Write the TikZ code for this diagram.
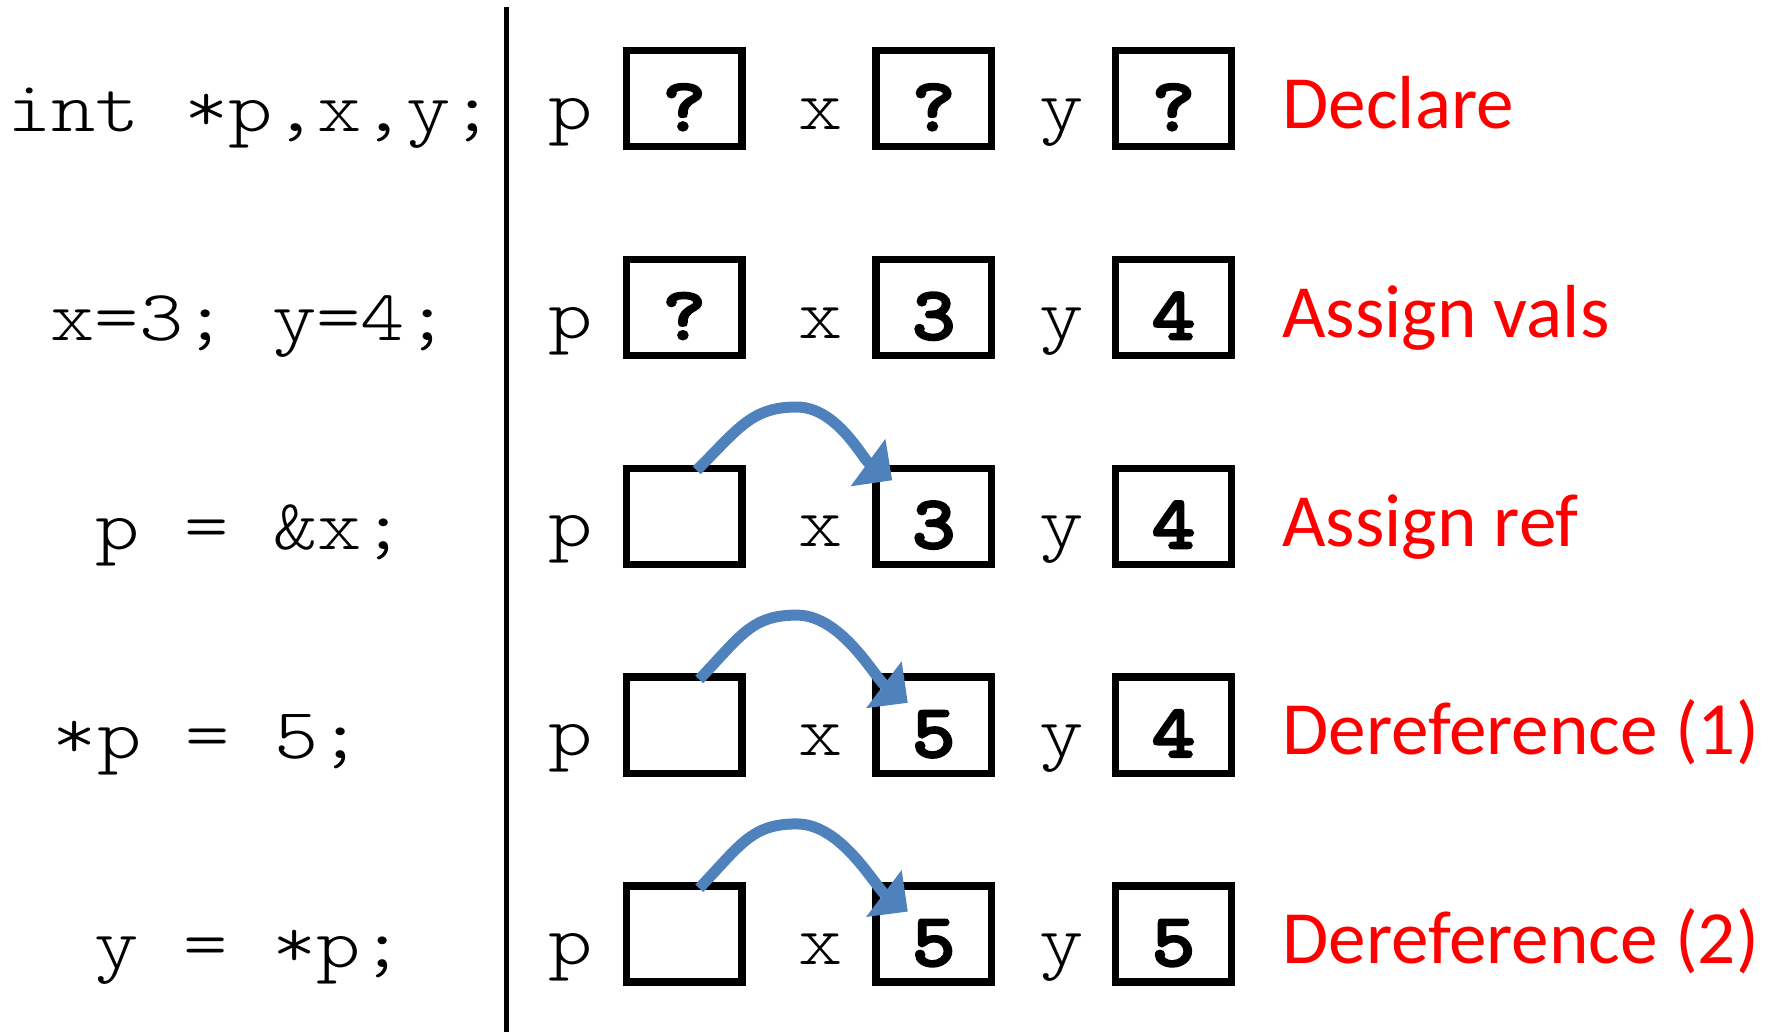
\documentclass[tikz,border=0pt]{standalone}
\usepackage{fontspec}
\usetikzlibrary{arrows.meta,calc}
\newfontfamily\codefont{lmmonolt10-regular.otf}[FakeStretch=1.172]
\newfontfamily\valfont{lmmonolt10-bold.otf}[FakeStretch=1.1,FakeBold=2.5]
\newfontfamily\notefont{Carlito}
\definecolor{ptrblue}{RGB}{79,129,189}
\definecolor{notered}{RGB}{255,0,0}
\begin{document}
\begin{tikzpicture}[x=0.5pt,y=-0.5pt,
  code/.style={anchor=base,inner sep=0pt,font=\codefont\fontsize{36pt}{40pt}\selectfont},
  varname/.style={anchor=base,inner sep=0pt,font=\codefont\fontsize{36pt}{40pt}\selectfont},
  cell/.style={draw,line width=3.65pt,minimum width=57.85pt,minimum height=48.05pt,
    inner sep=0pt,text height=32pt,text depth=0pt,font=\valfont\fontsize{38pt}{42pt}\selectfont},
  note/.style={anchor=base west,inner sep=0pt,text=notered,font=\notefont\fontsize{37.6pt}{44pt}\selectfont},
  ptr/.style={draw=ptrblue,line width=5.5pt,-{Triangle[length=15pt,width=28.5pt]}}]
\useasboundingbox (0,0) rectangle (1771,1032);

% divider
\coordinate (divtop) at (506,7);
\coordinate (divbot) at (506,1032);
\draw[line width=2.5pt] (divtop) -- (divbot);

% row 1
\node[code] (c1) at (251,131.7) {int *p,x,y;};
\node[varname] (lp1) at (571,129.2) {p};
\node[cell] (p1) at (684.2,98.7) {?};
\node[varname] (lx1) at (820.5,129.2) {x};
\node[cell] (x1) at (933.7,98.7) {?};
\node[varname] (ly1) at (1062,129.2) {y};
\node[cell] (y1) at (1173.5,98.7) {?};
\node[note] (n1) at (1282,128.5) {Declare};

% row 2
\node[code] (c2) at (250,340.5) {x=3; y=4;};
\node[varname] (lp2) at (571,338) {p};
\node[cell] (p2) at (684.2,307.5) {?};
\node[varname] (lx2) at (820.5,338) {x};
\node[cell] (x2) at (933.7,307.5) {3};
\node[varname] (ly2) at (1062,338) {y};
\node[cell] (y2) at (1173.5,307.5) {4};
\node[note] (n2) at (1282,337.3) {Assign vals};

% row 3
\node[code] (c3) at (251,549.3) {p = \&x;};
\node[varname] (lp3) at (571,546.8) {p};
\node[cell] (p3) at (684.2,516.3) {};
\node[varname] (lx3) at (820.5,546.8) {x};
\node[cell] (x3) at (933.7,516.3) {3};
\node[varname] (ly3) at (1062,546.8) {y};
\node[cell] (y3) at (1173.5,516.3) {4};
\node[note] (n3) at (1282,546.1) {Assign ref};

% row 4
\node[code] (c4) at (208,758.5) {*p = 5;};
\node[varname] (lp4) at (571,755.6) {p};
\node[cell] (p4) at (684.2,725.1) {};
\node[varname] (lx4) at (820.5,755.6) {x};
\node[cell] (x4) at (933.7,725.1) {5};
\node[varname] (ly4) at (1062,755.6) {y};
\node[cell] (y4) at (1173.5,725.1) {4};
\node[note] (n4) at (1282,754.9) {Dereference (1)};

% row 5
\node[code] (c5) at (250,967.3) {y = *p;};
\node[varname] (lp5) at (571,964.4) {p};
\node[cell] (p5) at (684.2,933.9) {};
\node[varname] (lx5) at (820.5,964.4) {x};
\node[cell] (x5) at (933.7,933.9) {5};
\node[varname] (ly5) at (1062,964.4) {y};
\node[cell] (y5) at (1173.5,933.9) {5};
\node[note] (n5) at (1282,963.7) {Dereference (2)};

% pointers
\draw[ptr] ($(p3.north)+(12.5,5.7)$) .. controls +(42,-42) and +(-45,0) ..
  ($(p3.north)+(112.5,-57.6)$) .. controls +(40,0) and +(-30,-22) ..
  ($(x3.north west)+(20,15.7)$);
\draw[ptr] ($(p4.north)+(15,6)$) .. controls +(42,-44) and +(-45,0) ..
  ($(p4.north)+(112.5,-58.3)$) .. controls +(45,0) and +(-33,-25) ..
  ($(x4.north west)+(35.6,29.4)$);
\draw[ptr] ($(p5.north)+(15,6)$) .. controls +(42,-44) and +(-45,0) ..
  ($(p5.north)+(112.5,-58.3)$) .. controls +(45,0) and +(-33,-25) ..
  ($(x5.north west)+(35.6,29.4)$);
\end{tikzpicture}
\end{document}
